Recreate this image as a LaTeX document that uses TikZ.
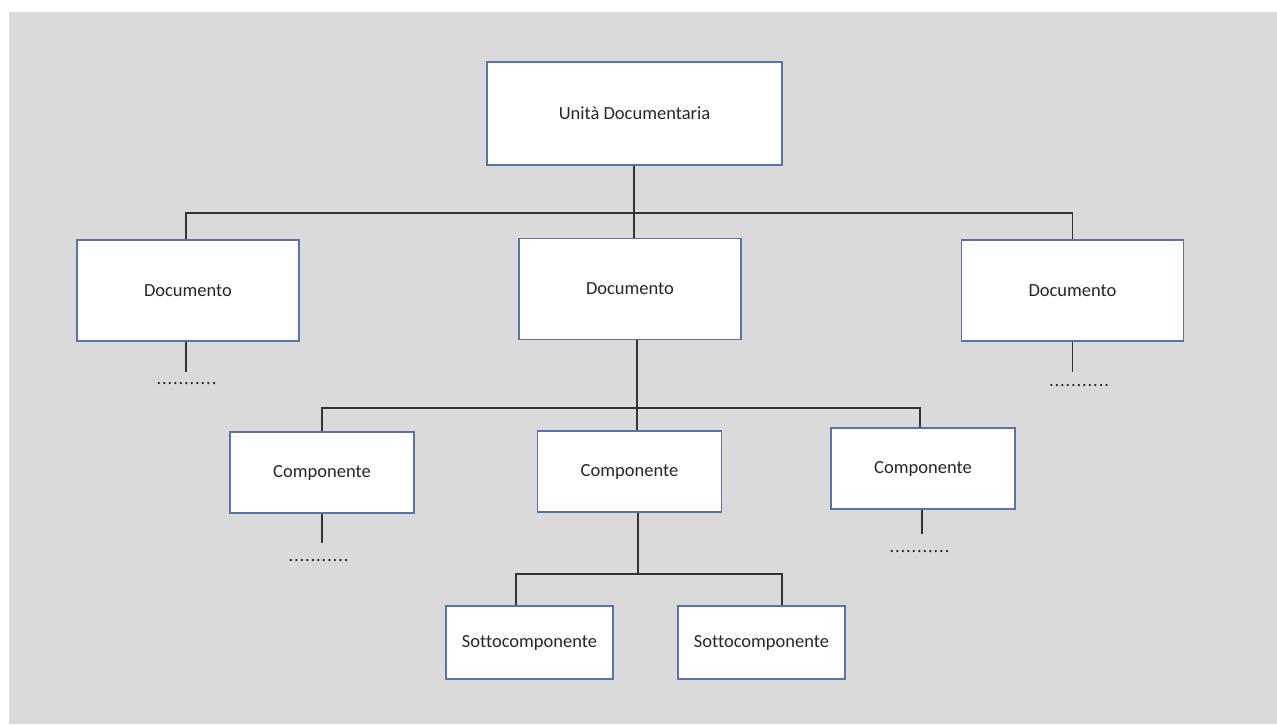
\documentclass[tikz,border=0pt]{standalone}
\usepackage{fontspec}
\setmainfont{Carlito}[Ligatures=NoCommon]
\usetikzlibrary{positioning}
\definecolor{bordo}{HTML}{5773A9}
\definecolor{sfondo}{HTML}{DADADA}
\newcommand{\puntini}{\foreach \i in {1,...,11}{.\kern0.85pt}}

\begin{document}
\begin{tikzpicture}[x=1pt,y=-1pt,
	box/.style={draw=bordo, line width=1.3pt, fill=white, text=black!85, font=\fontsize{18.5}{21}\selectfont},
	doc/.style={box, minimum width=222pt, minimum height=101pt},
	comp/.style={box, minimum width=184pt, minimum height=81pt},
	sotto/.style={box, minimum width=167pt, minimum height=73pt},
	dots/.style={inner sep=0pt, text=black!85, font=\fontsize{18.5}{21}\selectfont},
	conn/.style={line width=1.7pt, draw=black!80}]
	\useasboundingbox (0,0) rectangle (1277,724);
	\fill[sfondo] (9,12) rectangle (1277,724);
	% livelli
	\node[box, minimum width=295pt, minimum height=103pt] (ud) at (634.5,113.5) {Unità Documentaria};
	\node[doc] (doc1) at (188,290.5) {Documento};
	\node[doc] (doc2) at (630,289) {Documento};
	\node[doc] (doc3) at (1072.5,290.5) {Documento};
	\node[comp] (comp1) at (322,472.5) {Componente};
	\node[comp] (comp2) at (629.5,471.5) {Componente};
	\node[comp] (comp3) at (923,468.5) {Componente};
	\node[sotto] (sotto1) at (529.5,642.5) {Sottocomponente};
	\node[sotto] (sotto2) at (761.5,642.5) {Sottocomponente};
	% puntini
	\node[dots, below=41pt of doc1, xshift=-1pt] (dots1) {\puntini};
	\node[dots, below=43pt of doc3, xshift=7pt] (dots3) {\puntini};
	\node[dots, below=46pt of comp1, xshift=-3pt] (dots4) {\puntini};
	\node[dots, below=41pt of comp3, xshift=-3pt] (dots6) {\puntini};
	% rami
	\coordinate (b1) at (634,213);
	\coordinate (b2) at (637,408);
	\coordinate (b3) at (638,574);
	\draw[conn] (ud.south -| b1) -- (b1);
	\draw[conn] ([xshift=-2pt]doc1.north) |- (b1) -| (doc3.north);
	\draw[conn] (b1) -- (doc2.north -| b1);
	\draw[conn] (doc2.south -| b2) -- (b2);
	\draw[conn] (comp1.north) |- (b2) -| ([xshift=-3pt]comp3.north);
	\draw[conn] (b2) -- (comp2.north -| b2);
	\draw[conn] (comp2.south -| b3) -- (b3);
	\draw[conn] ([xshift=-13.5pt]sotto1.north) |- (b3) -| ([xshift=20.5pt]sotto2.north);
	\draw[conn, shorten >=11pt] ([xshift=-2pt]doc1.south) -- ([xshift=-2pt]doc1.south |- dots1.north);
	\draw[conn, shorten >=13pt] (doc3.south) -- (doc3.south |- dots3.north);
	\draw[conn, shorten >=17pt] (comp1.south) -- (comp1.south |- dots4.north);
	\draw[conn, shorten >=17pt] ([xshift=-1pt]comp3.south) -- ([xshift=-1pt]comp3.south |- dots6.north);
\end{tikzpicture}
\end{document}
